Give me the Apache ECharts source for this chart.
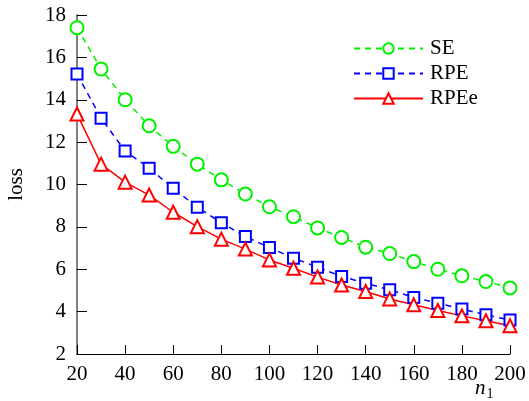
<!DOCTYPE html>
<html><head><meta charset="utf-8">
<script src="https://cdn.jsdelivr.net/npm/echarts@6/dist/echarts.min.js"></script>
<style>html,body{margin:0;padding:0;background:#fff}#c{width:529px;height:401px}</style>
</head><body><div id="c"></div>
<script>
const n1 = [20,30,40,50,60,70,80,90,100,110,120,130,140,150,160,170,180,190,200];
const seLoss = [17.4,15.45,14.0,12.77,11.8,10.96,10.22,9.55,8.95,8.48,7.95,7.5,7.04,6.74,6.36,6.0,5.69,5.42,5.12];
const rpeLoss = [15.22,13.13,11.58,10.77,9.82,8.93,8.2,7.54,7.03,6.52,6.1,5.66,5.34,5.03,4.67,4.4,4.12,3.85,3.6];
const rpeeLoss = [13.33,10.96,10.11,9.5,8.69,8.01,7.42,6.95,6.44,6.05,5.63,5.26,4.95,4.6,4.32,4.05,3.8,3.57,3.33];
const seriesNames = ['SE','RPE','RPEe'];
const yTicks = [2,4,6,8,10,12,14,16,18];

const font = 'Liberation Serif';
const fs = 21;
const chart = echarts.init(document.getElementById('c'), null, {renderer:'canvas'});
const mk = (arr)=> n1.map((x,i)=>[x,arr[i]]);
chart.setOption({
  animation:false,
  backgroundColor:'#fff',
  grid:{left:77,right:19,top:15,bottom:47,containLabel:false,outerBoundsMode:'none'},
  legend:{
    orient:'vertical', left:348, top:33, itemWidth:69, itemHeight:13, itemGap:4,
    textStyle:{fontFamily:font,fontSize:fs,color:'#000',lineHeight:20,padding:[0,0,0,2]},
    data:seriesNames
  },
  xAxis:{type:'value',min:20,max:200,interval:20,
    axisLine:{lineStyle:{color:'#000',width:1}},
    axisTick:{inside:true,length:9,lineStyle:{color:'#000'}},
    axisLabel:{fontFamily:font,fontSize:fs,color:'#000',margin:10},
    splitLine:{show:false}},
  yAxis:{type:'value',min:2,max:18,interval:2,
    name:'loss',nameLocation:'middle',nameGap:50,nameRotate:90,
    nameTextStyle:{fontFamily:font,fontSize:fs,color:'#000'},
    axisLine:{show:true,lineStyle:{color:'#808080',width:2}},
    axisTick:{show:true,inside:true,length:10,lineStyle:{color:'#000'}},
    axisLabel:{fontFamily:font,fontSize:fs,color:'#000',margin:11,
      formatter:(v)=> yTicks.includes(v)? String(v):''},
    splitLine:{show:false}},
  graphic:[{type:'text',left:475,top:378,style:{
    rich:{n:{fontFamily:font,fontStyle:'italic',fontSize:fs,fill:'#000'},s:{fontFamily:font,fontSize:14,fill:'#000',padding:[11,0,0,1]}},
    text:'{n|n}{s|1}'}}],
  series:[
    {name:seriesNames[0],type:'line',data:mk(seLoss),symbol:'emptyCircle',symbolSize:13,
      itemStyle:{color:'#00f000',borderWidth:1.5},lineStyle:{color:'#00f000',width:1.5,type:[6,5]}},
    {name:seriesNames[1],type:'line',data:mk(rpeLoss),symbol:'emptyRect',symbolSize:11,
      itemStyle:{color:'#0000ff',borderWidth:1.5},lineStyle:{color:'#0000ff',width:1.5,type:[6,5]}},
    {name:seriesNames[2],type:'line',data:mk(rpeeLoss),symbol:'emptyTriangle',symbolSize:13,
      itemStyle:{color:'#ff0000',borderWidth:1.5},lineStyle:{color:'#ff0000',width:1.5}}
  ]
});
</script></body></html>
